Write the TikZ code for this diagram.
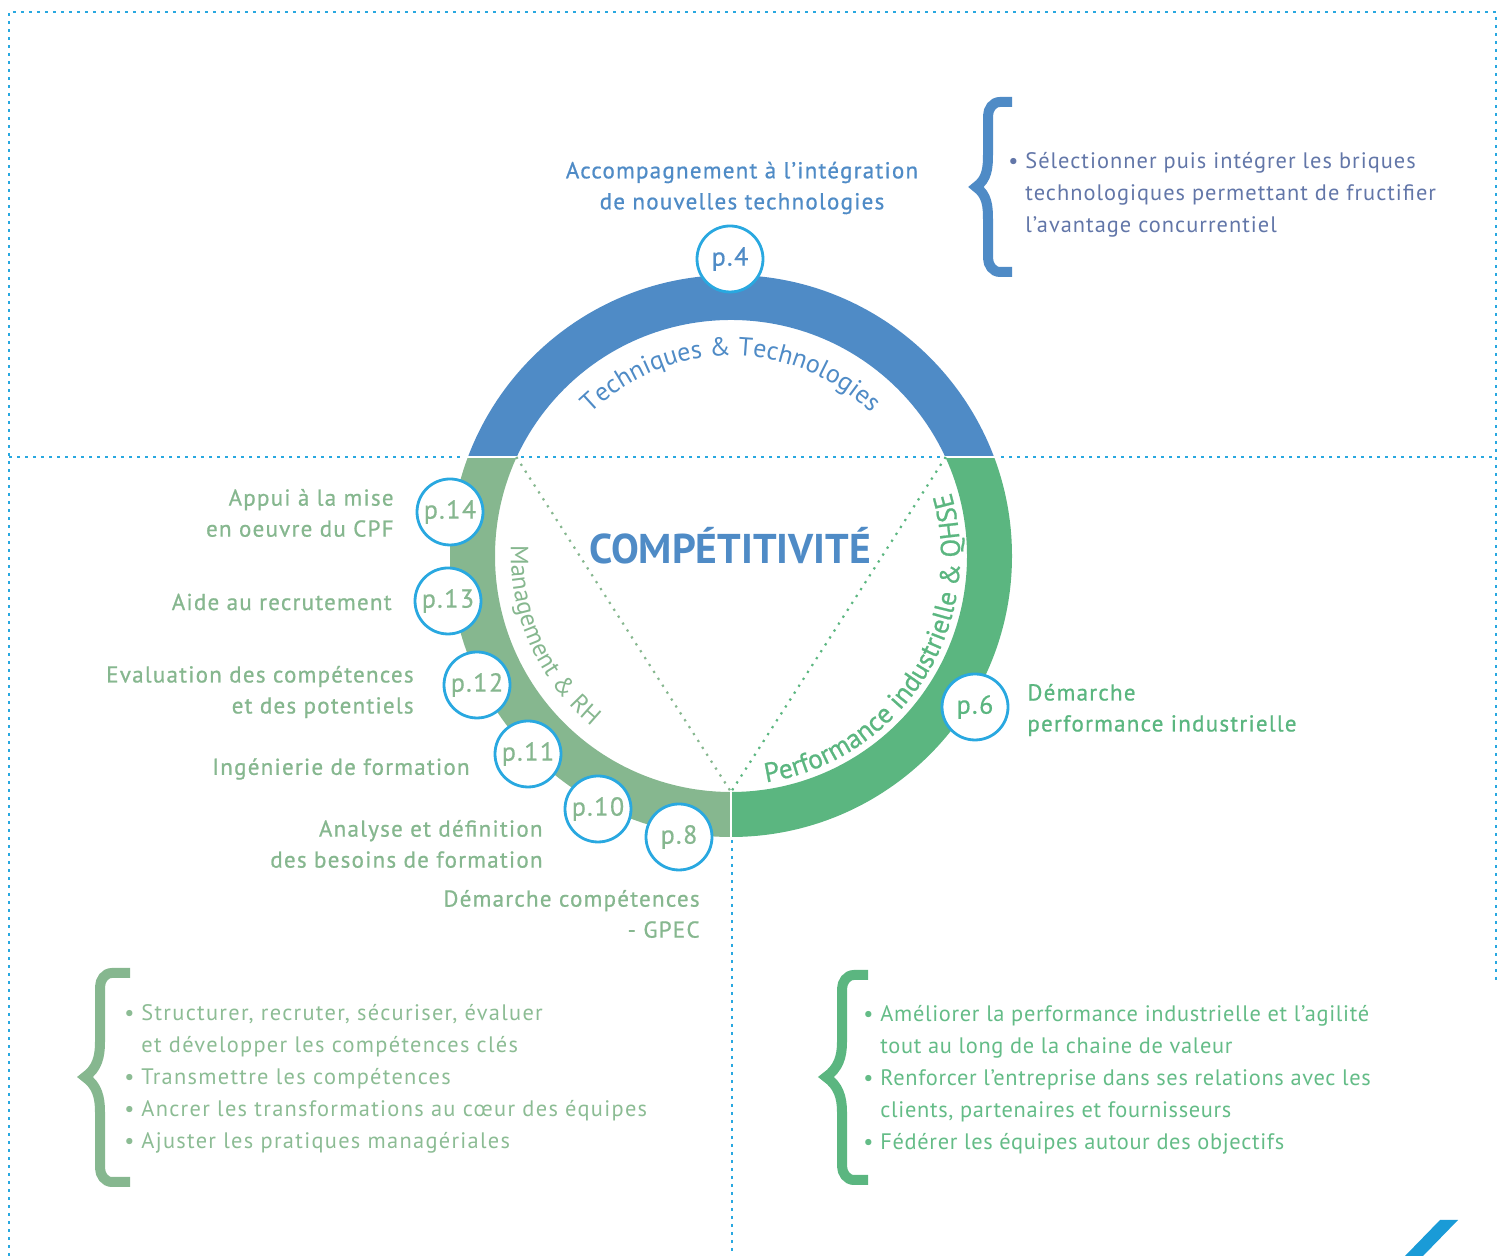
\documentclass[tikz,border=0pt]{standalone}
\usepackage{fontspec}
\setmainfont{PT Sans}
\newfontfamily\medfont[FakeBold=0.8,LetterSpace=5.5]{PT Sans}
\newfontfamily\pagefont[FakeBold=0.6,LetterSpace=6]{PT Sans}
\newfontfamily\perffont[FakeBold=0.8]{PT Sans}
\newfontfamily\bulfont[LetterSpace=4.5]{PT Sans}
\newfontfamily\bulfontL[LetterSpace=5.8]{PT Sans}
\newfontfamily\bulfontR[LetterSpace=3]{PT Sans}
\usetikzlibrary{decorations.text,calc}
\definecolor{bluec}{RGB}{79,139,198}
\definecolor{sagec}{RGB}{134,183,143}
\definecolor{greenc}{RGB}{91,182,128}
\definecolor{cyanc}{RGB}{41,168,224}
\definecolor{slatec}{RGB}{98,118,168}
\definecolor{sagetext}{RGB}{140,188,148}
\definecolor{greentext}{RGB}{100,188,135}
\definecolor{logoc}{RGB}{26,155,215}
\newcommand\bu{\makebox[8.5pt][l]{•}}
\newcommand\bi{\hspace*{8.5pt}}
\begin{document}
\begin{tikzpicture}[x=0.5pt,y=0.5pt,
  dotline/.style={cyanc,line width=1.3pt,dash pattern=on 1.3pt off 2.7pt},
  tridot/.style={line width=1.1pt,dash pattern=on 1.1pt off 3pt},
  pnode/.style={circle,draw=cyanc,line width=1.4pt,fill=white,minimum size=33pt,inner sep=0pt,font=\pagefont\fontsize{13}{14}\selectfont},
  lab/.style={inner sep=0pt,font=\medfont\fontsize{11.5}{15.5}\selectfont},
  bullets/.style={inner sep=0pt,align=left,anchor=west,font=\bulfont\fontsize{11.2}{16}\selectfont},
  bracestroke/.style={line width=5pt,line cap=butt,line join=miter}
]
\useasboundingbox (0,0) rectangle (1504,1256);
\coordinate (C) at (731,700);
% frame
\coordinate (TL) at (9,1244);
\coordinate (TR) at (1496,1244);
\coordinate (BL) at (9,0);
\coordinate (RE) at (1496,276);
\coordinate (ML) at (9,799);
\coordinate (MR) at (1496,799);
\coordinate (VB) at (732,0);
\coordinate (VT) at (732,416);
\draw[dotline] (BL) -- (TL) -- (TR) -- (RE);
\draw[dotline] (ML) -- (MR);
\draw[dotline] (VT) -- (VB);
% ring
\begin{scope}
\clip (0,799) rectangle (1504,1256);
\fill[bluec,even odd rule] (C) circle[radius=281] (C) circle[radius=236];
\end{scope}
\begin{scope}
\clip (0,0) rectangle (731,799);
\fill[sagec,even odd rule] (C) circle[radius=281] (C) circle[radius=236];
\end{scope}
\begin{scope}
\clip (731,0) rectangle (1504,799);
\fill[greenc,even odd rule] (C) circle[radius=281] (C) circle[radius=236];
\end{scope}
\coordinate (SL1) at (465,799); \coordinate (SL2) at (518,799);
\coordinate (SR1) at (944,799); \coordinate (SR2) at (997,799);
\coordinate (SB1) at (731,417); \coordinate (SB2) at (731,466);
\draw[white,line width=1.1pt] (SL1) -- (SL2);
\draw[white,line width=1.1pt] (SR1) -- (SR2);
\draw[white,line width=1.1pt] (SB1) -- (SB2);
% triangle
\coordinate (TA) at (516.3,799);
\coordinate (TB) at (945.7,799);
\coordinate (TC) at (731,464);
\draw[tridot,sagec] (TA) -- (TC);
\draw[tridot,greenc] (TB) -- (TC);
% curved texts
\path[decorate,decoration={text along path,text align=center,
  text={|\fontsize{13}{14}\selectfont\color{bluec}|Techniques {\&} Technologies}}]
  ($(C)+(160:200)$) arc[start angle=160,end angle=20,radius=200];
\path[decorate,decoration={text along path,text align=center,
  text={|\fontsize{12.5}{14}\selectfont\color{sagec}|Management {\&} RH}}]
  ($(C)+(160:220)$) arc[start angle=160,end angle=248,radius=220];
\path[decorate,decoration={text along path,text align=center,
  text={|\perffont\fontsize{13.6}{15}\selectfont\color{greenc}|Performance industrielle {\&} QHSE}}]
  ($(C)+(-95:229)$) arc[start angle=-95,end angle=30,radius=229];
% centre title
\node[font=\bfseries\fontsize{20.8}{21}\selectfont,text=bluec,inner sep=0pt] (comp) at (730,710) {COMPÉTITIVITÉ};
% page circles
\node[pnode,text=bluec] (p4) at (730,997) {p.4};
\node[pnode,text=sagec] (p14) at (450,744) {p.14};
\node[pnode,text=sagec] (p13) at (448,655) {p.13};
\node[pnode,text=sagec] (p12) at (477,571) {p.12};
\node[pnode,text=sagec] (p11) at (528,502) {p.11};
\node[pnode,text=sagec] (p10) at (598,447) {p.10};
\node[pnode,text=sagec] (p8) at (679,419) {p.8};
\node[pnode,text=greenc] (p6) at (975,549) {p.6};
% labels
\node[lab,text=bluec,align=center] (acc) at (742,1068) {Accompagnement à l’intégration\\de nouvelles technologies};
\node[lab,text=sagec,align=right,anchor=east] (cpf) at (394,743) {Appui à la mise\\en oeuvre du CPF};
\node[lab,text=sagec,align=right,anchor=east] (rec) at (392,654) {Aide au recrutement};
\node[lab,text=sagec,align=right,anchor=east] (eva) at (414,564) {Evaluation des compétences\\et des potentiels};
\node[lab,text=sagec,align=right,anchor=east] (ing) at (470,487) {Ingénierie de formation};
\node[lab,text=sagec,align=right,anchor=east] (ana) at (543,412) {Analyse et définition\\des besoins de formation};
\node[lab,text=sagec,align=right,anchor=east] (gpec) at (700,342) {Démarche compétences\\- GPEC};
\node[lab,text=greenc,align=left,anchor=west] (perf) at (1027,546) {Démarche\\performance industrielle};
% braces
\draw[bracestroke,bluec] (1012,1154) -- (1000,1154) to[out=180,in=90] (988,1140) -- (988,1102)
  to[out=-90,in=35] (976,1069) to[out=-35,in=90] (988,1036) -- (988,998) to[out=-90,in=180] (1000,984) -- (1012,984);
\draw[bracestroke,sagec] (130,283) -- (112,283) to[out=180,in=90] (100,269) -- (100,214)
  to[out=-90,in=35] (85,179) to[out=-35,in=90] (100,144) -- (100,88) to[out=-90,in=180] (112,74) -- (130,74);
\draw[bracestroke,greenc] (868,281) -- (854,281) to[out=180,in=90] (842,267) -- (842,214)
  to[out=-90,in=35] (826,179) to[out=-35,in=90] (842,144) -- (842,90) to[out=-90,in=180] (854,76) -- (868,76);
% bullet lists
\node[bullets,text=slatec] (tb) at (1008,1061) {\bu Sélectionner puis intégrer les briques\\\bi technologiques permettant de fructifier\\\bi l’avantage concurrentiel};
\node[bullets,text=sagetext,font=\bulfontL\fontsize{11.2}{16}\selectfont] (lb) at (124,177) {\bu Structurer, recruter, sécuriser, évaluer\\\bi et développer les compétences clés\\\bu Transmettre les compétences\\\bu Ancrer les transformations au cœur des équipes\\\bu Ajuster les pratiques managériales};
\node[bullets,text=greentext,font=\bulfontR\fontsize{11.2}{16}\selectfont] (rb) at (863,176) {\bu Améliorer la performance industrielle et l’agilité\\\bi tout au long de la chaine de valeur\\\bu Renforcer l’entreprise dans ses relations avec les\\\bi clients, partenaires et fournisseurs\\\bu Fédérer les équipes autour des objectifs};
% logo
\fill[logoc] (1405,0) -- (1440,36) -- (1458,36) -- (1423,0) -- cycle;
\end{tikzpicture}
\end{document}
